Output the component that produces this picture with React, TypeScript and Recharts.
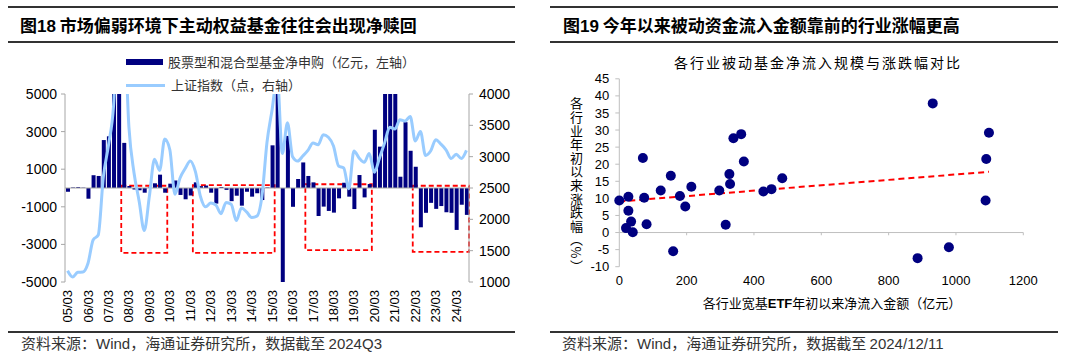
import React from "react";
import {
  ComposedChart,
  Bar,
  Line,
  XAxis,
  YAxis,
  ReferenceArea,
  ReferenceLine,
  ScatterChart,
  Scatter,
} from "recharts";

const LATIN = '"Liberation Sans", "Noto Sans CJK SC", sans-serif';
const CJK = '"Noto Sans CJK SC", "Liberation Sans", sans-serif';

// ---- 图18 data (quarterly, 05/03 .. 24/09)
const quarters: string[] = [];
for (let y = 5; y <= 24; y++) {
  for (const m of ["03", "06", "09", "12"]) {
    if (y === 24 && m === "12") break;
    quarters.push(`${String(y).padStart(2, "0")}/${m}`);
  }
}

// 股票型和混合型基金净申购（亿元）
const fundFlows = [
  -200, 30, 50, 20, -570, 680, 640, 2550, 2750, 7500,
  9000, 2400, 100, -80, -120, -250, 30, 250, 710, -250,
  230, 400, -370, -600, -400, 300, 100, 130, -250, -830,
  50, -100, -700, -410, -940, -200, -460, -280, -640, 30,
  2270, 8000, -5200, 2770, -1000, 480, 1360, 640, 300, -1490,
  -990, -1220, -1310, -550, 280, -460, -1120, 690, -500, 210,
  3100, 2200, 6500, 8000, 7000, 600, 3500, 1980, 1130, -2090,
  -1320, -790, -1110, -960, -1290, -1320, -2230, -890, -1430,
];

// 上证指数（点）
const shIndex = [
  1180, 1080, 1155, 1160, 1300, 1670, 1750, 2680, 3180, 3820,
  5550, 5260, 3470, 2740, 2290, 1820, 2370, 2960, 2780, 3280,
  3110, 2400, 2660, 2810, 2930, 2760, 2360, 2200, 2260, 2230,
  2090, 2270, 2240, 1980, 2180, 2120, 2030, 2050, 2360, 3230,
  3750, 4280, 3050, 3540, 3000, 2930, 3010, 3100, 3220, 3190,
  3350, 3310, 3170, 2850, 2820, 2490, 3090, 2980, 2910, 3050,
  2750, 2980, 3220, 3470, 3440, 3590, 3570, 3640, 3250, 3400,
  3020, 3090, 3270, 3200, 3110, 2970, 3040, 2970, 3100,
];

const leftTicks = [-5000, -3000, -1000, 1000, 3000, 5000];
const rightTicks = [1000, 1500, 2000, 2500, 3000, 3500, 4000];

// red dashed boxes marking weak-market periods
const weakPeriods = [
  { from: "07/12", to: "09/12", low: -3450, high: 120 },
  { from: "11/06", to: "15/03", low: -3450, high: 150 },
  { from: "16/12", to: "19/12", low: -3300, high: 200 },
  { from: "22/03", to: "24/09", low: -3400, high: 120 },
];

const flowData = quarters.map((q, i) => ({ q, flow: fundFlows[i], idx: shIndex[i] }));

// ---- 图19 data
const etfInflow = [
  0, 27, 27, 20, 35, 40, 70, 74, 81, 123, 153, 160, 180, 196, 214, 297,
  316, 327, 329, 339, 362, 370, 428, 452, 484, 931, 1098, 1090, 1088, 979, 886,
];
const ytdReturn = [
  9.4, 10.5, 6.4, 1.3, 3.2, 0.1, 21.8, 10.2, 2.4, 12.3, 16.6, -5.5, 10.7, 7.6, 13.4, 12.3,
  2.3, 17.1, 14.2, 27.6, 28.8, 20.8, 12.0, 12.7, 15.9, 37.8, 29.2, 21.5, 9.4, -4.3, -7.5,
];
const xTicks = [0, 200, 400, 600, 800, 1000, 1200];
const yTicks = [-10, -5, 0, 5, 10, 15, 20, 25, 30, 35, 40, 45];

const points = etfInflow.map((x, i) => ({ x, y: ytdReturn[i] }));

// linear trend (least squares)
const n = points.length;
const mx = etfInflow.reduce((a, b) => a + b, 0) / n;
const my = ytdReturn.reduce((a, b) => a + b, 0) / n;
let sxy = 0;
let sxx = 0;
points.forEach((p) => {
  sxy += (p.x - mx) * (p.y - my);
  sxx += (p.x - mx) * (p.x - mx);
});
const slope = sxy / sxx;
const intercept = my - slope * mx;
const xMin = Math.min(...etfInflow);
const xMax = Math.max(...etfInflow);

const QuarterTick = ({ x, y, payload }: any) => (
  <text
    x={x}
    y={y}
    transform={`rotate(-90, ${x}, ${y})`}
    textAnchor="end"
    dominantBaseline="central"
    fontSize={13}
    fontFamily={LATIN}
    fill="#000"
  >
    {payload.value}
  </text>
);

const Dot = (props: any) => <circle cx={props.cx} cy={props.cy} r={5} fill="#000080" />;

const rule = (left: number, top: number, width: number) => (
  <div style={{ position: "absolute", left, top, width, height: 2, background: "#333" }} />
);

export default function App() {
  const axisGray = "#a6a6a6";
  return (
    <div
      style={{
        position: "absolute",
        left: 0,
        top: 0,
        width: 1080,
        height: 359,
        background: "#fff",
        fontFamily: CJK,
        color: "#000",
        overflow: "hidden",
      }}
    >
      {/* ---------- left panel ---------- */}
      {rule(8, 6, 507)}
      <div style={{ position: "absolute", left: 20, top: 14, lineHeight: "22px", fontSize: 17, fontWeight: 700 }}>
        图<span style={{ fontFamily: LATIN }}>18</span> 市场偏弱环境下主动权益基金往往会出现净赎回
      </div>
      {rule(8, 41, 507)}

      <div style={{ position: "absolute", left: 126, top: 59, width: 37, height: 6, background: "#000080" }} />
      <div style={{ position: "absolute", left: 168, top: 53, lineHeight: "18px", fontSize: 13, color: "#333" }}>
        股票型和混合型基金净申购（亿元，左轴）
      </div>
      <div style={{ position: "absolute", left: 126, top: 84, width: 39, height: 3, background: "#99CCFF" }} />
      <div style={{ position: "absolute", left: 171, top: 76, lineHeight: "18px", fontSize: 13, color: "#333" }}>
        上证指数（点，右轴）
      </div>

      <div style={{ position: "absolute", left: 0, top: 0 }}>
        <ComposedChart
          width={540}
          height={340}
          data={flowData}
          margin={{ top: 94, right: 21, bottom: 13, left: 15 }}
        >
          <XAxis
            dataKey="q"
            interval={3}
            axisLine={false}
            tickLine={false}
            tickSize={4}
            tickMargin={4}
            height={45}
            tick={<QuarterTick />}
          />
          <YAxis
            yAxisId="left"
            orientation="left"
            width={50}
            domain={[-5000, 5000]}
            ticks={leftTicks}
            interval={0}
            allowDataOverflow
            stroke={axisGray}
            tickSize={4}
            tickMargin={4}
            tick={{ fontSize: 14, fill: "#000", fontFamily: LATIN }}
          />
          <YAxis
            yAxisId="right"
            orientation="right"
            width={50}
            domain={[1000, 4000]}
            ticks={rightTicks}
            interval={0}
            allowDataOverflow
            stroke={axisGray}
            tickSize={4}
            tickMargin={6}
            tick={{ fontSize: 14, fill: "#000", fontFamily: LATIN }}
          />
          <ReferenceLine yAxisId="left" y={0} stroke={axisGray} />
          <Bar yAxisId="left" dataKey="flow" fill="#000080" barSize={4} isAnimationActive={false} />
          <Line
            yAxisId="right"
            dataKey="idx"
            type="monotone"
            stroke="#99CCFF"
            strokeWidth={3}
            dot={false}
            isAnimationActive={false}
          />
          {weakPeriods.map((p) => (
            <ReferenceArea
              key={p.from}
              yAxisId="left"
              x1={p.from}
              x2={p.to}
              y1={p.low}
              y2={p.high}
              fill="none"
              stroke="#FF0000"
              strokeWidth={1.8}
              strokeDasharray="5 3"
              ifOverflow="visible"
            />
          ))}
        </ComposedChart>
      </div>

      {rule(8, 331, 507)}
      <div style={{ position: "absolute", left: 21, top: 334, lineHeight: "18px", fontSize: 15, color: "#333" }}>
        资料来源：<span style={{ fontFamily: LATIN }}>Wind</span>，海通证券研究所，数据截至{" "}
        <span style={{ fontFamily: LATIN }}>2024Q3</span>
      </div>

      {/* ---------- right panel ---------- */}
      {rule(550, 6, 508)}
      <div style={{ position: "absolute", left: 563, top: 14, lineHeight: "22px", fontSize: 17, fontWeight: 700 }}>
        图<span style={{ fontFamily: LATIN }}>19</span> 今年以来被动资金流入金额靠前的行业涨幅更高
      </div>
      {rule(550, 41, 508)}

      <div
        style={{
          position: "absolute",
          left: 818,
          top: 53,
          transform: "translateX(-50%)",
          whiteSpace: "nowrap",
          lineHeight: "18px",
          fontSize: 14,
          letterSpacing: 2,
        }}
      >
        各行业被动基金净流入规模与涨跌幅对比
      </div>
      <div
        style={{
          position: "absolute",
          left: 569,
          top: 97,
          writingMode: "vertical-rl",
          fontSize: 13,
          lineHeight: "14px",
          letterSpacing: 0.6,
        }}
      >
        各行业年初以来涨跌幅（%）
      </div>

      <div style={{ position: "absolute", left: 540, top: 0 }}>
        <ScatterChart width={520} height={320} margin={{ top: 78.8, right: 36.7, bottom: 23.3, left: 29.3 }}>
          <XAxis
            type="number"
            dataKey="x"
            domain={[0, 1200]}
            ticks={xTicks}
            interval={0}
            axisLine={false}
            tickLine={false}
            tickSize={4}
            tickMargin={5}
            height={30}
            tick={{ fontSize: 13, fill: "#000", fontFamily: LATIN }}
          />
          <YAxis
            type="number"
            dataKey="y"
            domain={[-10, 45]}
            ticks={yTicks}
            interval={0}
            width={50}
            stroke="#bfbfbf"
            tickSize={4}
            tickMargin={6}
            tick={{ fontSize: 13, fill: "#000", fontFamily: LATIN }}
          />
          <ReferenceLine y={0} stroke="#bfbfbf" />
          {xTicks.slice(1).map((t) => (
            <ReferenceLine
              key={t}
              segment={[
                { x: t, y: 0 },
                { x: t, y: -0.8 },
              ]}
              stroke="#bfbfbf"
            />
          ))}
          <ReferenceLine
            segment={[
              { x: xMin, y: intercept + slope * xMin },
              { x: xMax, y: intercept + slope * xMax },
            ]}
            stroke="#FF0000"
            strokeWidth={2}
            strokeDasharray="6 4"
          />
          <Scatter data={points} shape={<Dot />} isAnimationActive={false} />
        </ScatterChart>
      </div>

      <div
        style={{
          position: "absolute",
          left: 832,
          top: 294,
          transform: "translateX(-50%)",
          whiteSpace: "nowrap",
          lineHeight: "18px",
          fontSize: 13,
        }}
      >
        各行业宽基<b style={{ fontFamily: LATIN }}>ETF</b>年初以来净流入金额（亿元）
      </div>

      {rule(550, 331, 508)}
      <div style={{ position: "absolute", left: 562, top: 334, lineHeight: "18px", fontSize: 15, color: "#333" }}>
        资料来源：<span style={{ fontFamily: LATIN }}>Wind</span>，海通证券研究所，数据截至{" "}
        <span style={{ fontFamily: LATIN }}>2024/12/11</span>
      </div>
    </div>
  );
}
